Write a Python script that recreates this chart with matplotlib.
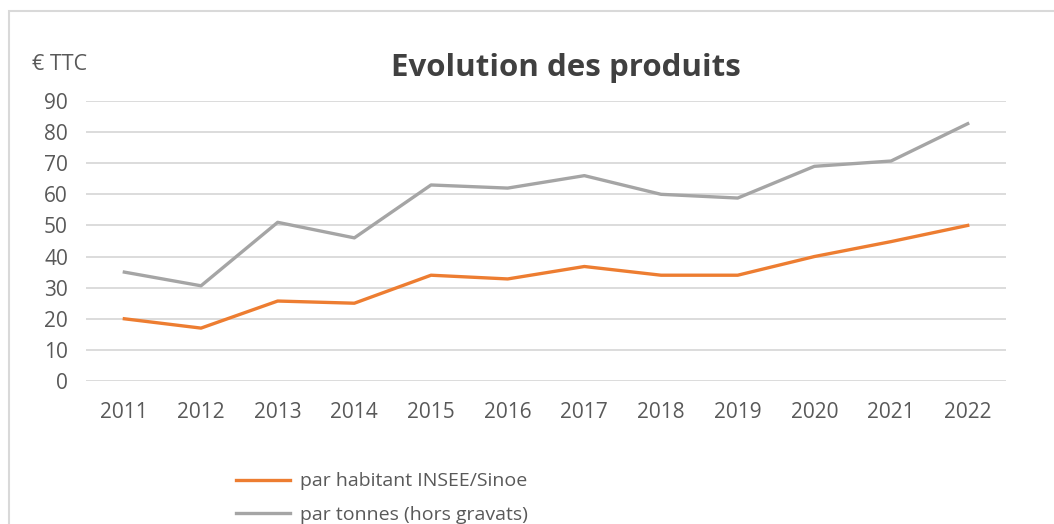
import matplotlib.pyplot as plt
from matplotlib.patches import Rectangle

plt.rcParams['font.family'] = ['Open Sans', 'DejaVu Sans']

# données
annees = ['2011', '2012', '2013', '2014', '2015', '2016',
          '2017', '2018', '2019', '2020', '2021', '2022']
par_habitant = [20, 17, 25.7, 25, 34, 32.8, 36.8, 34, 34, 40, 44.8, 50]
par_tonnes = [35, 30.6, 51, 46, 63, 62, 66, 60, 58.8, 69, 70.7, 82.7]

fig = plt.figure(figsize=(10.54, 5.24), dpi=100)
ax = fig.add_axes([0.0816, 0.2729, 0.8729, 0.5344])

# cadre du graphique
fig.patches.append(Rectangle((8.5 / 1054, -0.1), 1.2, 1 - 10.5 / 524 + 0.1,
                             transform=fig.transFigure, fill=False,
                             edgecolor='#d9d9d9', linewidth=1.5))

x = range(len(annees))
ax.plot(x, par_habitant, color='#ed7d31', lw=2.4, label='par habitant INSEE/Sinoe')
ax.plot(x, par_tonnes, color='#a5a5a5', lw=2.4, label='par tonnes (hors gravats)')

ax.set_xlim(-0.5, len(annees) - 0.5)
ax.set_ylim(0, 90)
ax.set_yticks(range(0, 91, 10))
ax.set_xticks(list(x))
ax.set_xticklabels(annees)
ax.yaxis.grid(True, color='#d9d9d9', lw=1.3)
ax.set_axisbelow(True)
for s in ax.spines.values():
    s.set_visible(False)
ax.tick_params(axis='both', length=0, labelsize=15, labelcolor='#595959')
ax.tick_params(axis='y', pad=13)
ax.tick_params(axis='x', pad=15)

fig.text(32 / 1054, 1 - 65 / 524, '€ TTC', fontsize=15.5, color='#595959', va='center')
fig.text(566 / 1054, 1 - 68 / 524, 'Evolution des produits', fontsize=22.5,
         fontweight='bold', color='#404040', ha='center', va='center')

fig.legend(loc='upper left', bbox_to_anchor=(218 / 1054, 1 - 455 / 524),
           frameon=False, fontsize=14, labelcolor='#595959',
           handlelength=2.8, handletextpad=0.5, labelspacing=0.8)

fig.savefig('out.png')
